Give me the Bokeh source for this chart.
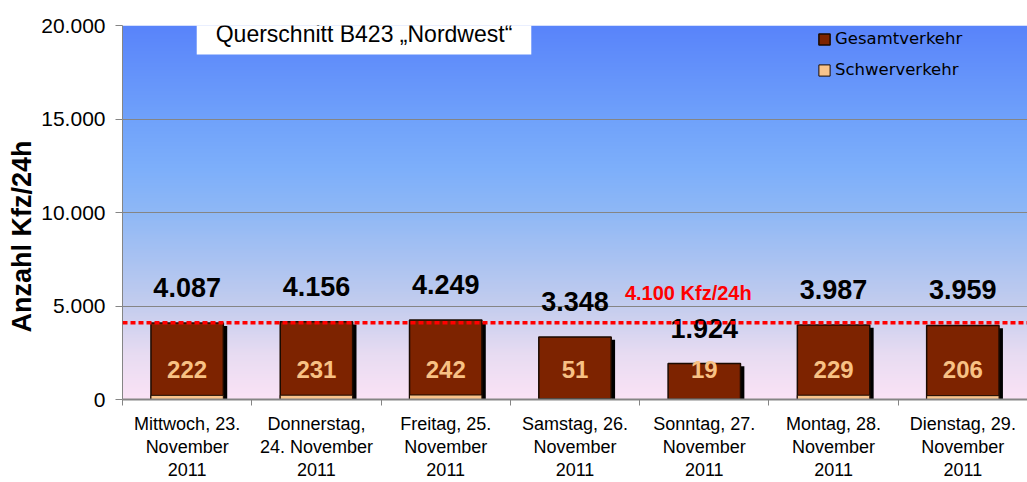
import numpy as np
from bokeh.plotting import figure
from bokeh.models import (Range1d, FixedTicker, ColumnDataSource, Span, Label,
                          Legend, LegendItem, Title)
from bokeh.transform import dodge
from bokeh.core.properties import value
from bokeh.embed import file_html
from bokeh.resources import INLINE

# ---------------- data ----------------
days = ["Mittwoch, 23.\nNovember\n2011",
        "Donnerstag,\n24. November\n2011",
        "Freitag, 25.\nNovember\n2011",
        "Samstag, 26.\nNovember\n2011",
        "Sonntag, 27.\nNovember\n2011",
        "Montag, 28.\nNovember\n2011",
        "Dienstag, 29.\nNovember\n2011"]
gesamtverkehr = [4087, 4156, 4249, 3348, 1924, 3987, 3959]
schwerverkehr = [222, 231, 242, 51, 19, 229, 206]
threshold = 4100
y_ticks = [0, 5000, 10000, 15000, 20000]
y_tick_labels = ["0", "5.000", "10.000", "15.000", "20.000"]
title_text = "Querschnitt B423 \u201eNordwest\u201c"
threshold_label = "4.100 Kfz/24h"
y_title = "Anzahl Kfz/24h"

def de(v):
    return f"{v:,}".replace(",", ".")

n = len(days)
centers = [i + 0.5 for i in range(n)]
src = ColumnDataSource(dict(
    x=centers, g=gesamtverkehr, s=schwerverkehr,
    gl=[de(v) for v in gesamtverkehr], sl=[str(v) for v in schwerverkehr],
    zero=[0] * n))

FONT = "Liberation Sans"

p = figure(width=1027, height=482, output_backend="svg", toolbar_location=None,
           x_range=Range1d(0, n), y_range=Range1d(0, 20000),
           min_border_left=122, min_border_right=0, min_border_top=25,
           min_border_bottom=83)
p.outline_line_color = None
p.background_fill_color = "white"
p.border_fill_color = "white"

# background gradient (style only)
stops = [(0.0, (251, 227, 246)), (0.12, (232, 220, 242)), (0.25, (196, 205, 238)),
         (0.5, (143, 184, 246)), (0.62, (125, 175, 251)), (0.75, (112, 162, 250)),
         (1.0, (89, 132, 250))]
H = 400
img = np.empty((H, 1), dtype=np.uint32)
view = img.view(dtype=np.uint8).reshape((H, 1, 4))
fr = np.linspace(0, 1, H)
sp = [s[0] for s in stops]
for c in range(3):
    view[:, 0, c] = np.interp(fr, sp, [s[1][c] for s in stops]).astype(np.uint8)
view[:, 0, 3] = 255
bg = p.image_rgba(image=[img], x=0, y=0, dw=n, dh=20000)
bg.level = "image"

# grid
p.xgrid.visible = False
p.ygrid.ticker = FixedTicker(ticks=y_ticks)
p.ygrid.grid_line_color = "#858585"
p.ygrid.grid_line_width = 1.2

# shadow
p.vbar(x=dodge("x", 0.03), top=dodge("g", -150), bottom=dodge("zero", -150),
       width=0.56, source=src, fill_color="black", line_color=None)
r_g = p.vbar(x="x", top="g", bottom=0, width=0.56, source=src,
             fill_color="#7D2300", line_color="#1a0a00", line_width=1.5)
r_s = p.vbar(x="x", top="s", bottom=0, width=0.56, source=src,
             fill_color="#F9C48C", line_color="#1a0a00", line_width=1)

# threshold line
p.add_layout(Span(location=threshold, dimension="width", line_color="#FF0000",
                  line_width=3.5, line_dash="5 3"))

# labels
p.text(x="x", y="g", text="gl", source=src, text_align="center",
       text_baseline="bottom", y_offset=-26, text_font=value(FONT),
       text_font_style="bold", text_font_size="27px", text_color="black")
p.text(x="x", y="zero", text="sl", source=src, text_align="center",
       text_baseline="middle", y_offset=-30, text_font=value(FONT),
       text_font_style="bold", text_font_size="24px", text_color="#F8C184")
p.text(x=[centers[4]], y=[threshold], text=[threshold_label], text_align="center",
       text_baseline="bottom", x_offset=-16, y_offset=-19, text_font=value(FONT),
       text_font_style="bold", text_font_size="20px", text_color="#FF0000")

# title box
p.add_layout(Label(x=1.868, y=19570, text=title_text, text_align="center",
                   text_baseline="middle", text_font=FONT, text_font_size="23px",
                   text_color="black", background_fill_color="white",
                   padding=dict(left=19, right=19, top=8, bottom=8)))

# y axis title as a side title, shifted below the frame centre as in the original
p.add_layout(Title(text=y_title, align="left", offset=67, text_font=FONT,
                   text_font_style="bold", text_font_size="27px",
                   text_color="black", standoff=4), "left")

# axes
xa = p.xaxis[0]
xa.ticker = FixedTicker(ticks=centers, minor_ticks=list(range(n + 1)))
xa.major_label_overrides = {c: d for c, d in zip(centers, days)}
xa.major_tick_out = 0
xa.major_tick_in = 0
xa.minor_tick_out = 6
xa.minor_tick_in = 0
xa.minor_tick_line_color = "#858585"
xa.axis_line_color = "#858585"
xa.axis_line_width = 2
xa.major_label_text_font = FONT
xa.major_label_text_font_size = "18px"
xa.major_label_text_color = "black"
xa.major_label_standoff = 8
xa.major_label_text_line_height = 1.15

ya = p.yaxis[0]
ya.ticker = FixedTicker(ticks=y_ticks)
ya.major_label_overrides = {t: l for t, l in zip(y_ticks, y_tick_labels)}
ya.major_tick_out = 7
ya.major_tick_in = 0
ya.minor_tick_line_color = None
ya.major_tick_line_color = "#858585"
ya.axis_line_color = "#858585"
ya.major_label_text_font = FONT
ya.major_label_text_font_size = "21px"
ya.major_label_text_color = "black"
ya.major_label_standoff = 10

# legend
legend = Legend(items=[LegendItem(label="Gesamtverkehr", renderers=[r_g]),
                       LegendItem(label="Schwerverkehr", renderers=[r_s])],
                location=(695, 320), background_fill_alpha=0, border_line_color=None,
                padding=0, margin=0, spacing=12, label_text_font="DejaVu Sans",
                label_text_font_size="16.5px", label_text_color="black",
                glyph_width=14, glyph_height=14, label_standoff=4)
p.add_layout(legend)

open("out.html", "w").write(file_html(p, INLINE))
